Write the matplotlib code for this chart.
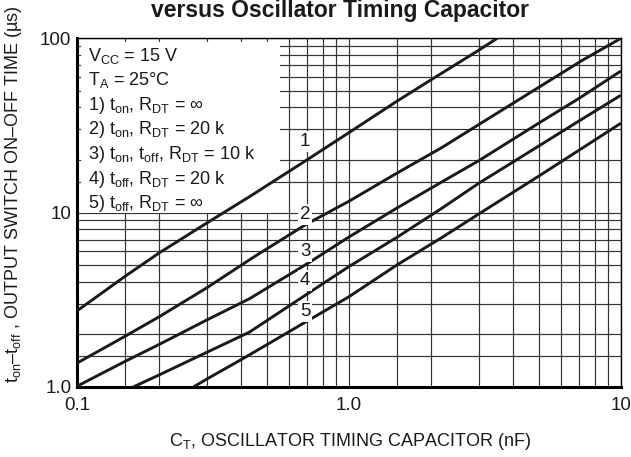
import matplotlib
matplotlib.use("Agg")
import matplotlib.pyplot as plt
from matplotlib.patches import Rectangle
from matplotlib.ticker import NullFormatter

plt.rcParams["font.family"] = ["Liberation Sans", "DejaVu Sans"]
plt.rcParams["mathtext.fontset"] = "custom"
plt.rcParams["mathtext.rm"] = "Liberation Sans"
plt.rcParams["mathtext.it"] = "Liberation Sans"

# ── data ──
c1_x = [0.1, 0.15, 0.2, 0.3, 0.43, 0.7, 1.0, 1.5, 2.0, 3.0, 3.52]
c1_y = [2.73, 4.3, 5.85, 8.7, 12.3, 20.0, 28.7, 43.4, 57.5, 85.1, 100]

c2_x = [0.1, 0.15, 0.2, 0.3, 0.45, 0.7, 1.0, 1.5, 2.2, 3.0, 5.0, 7.2, 10]
c2_y = [1.37, 1.95, 2.52, 3.7, 5.6, 8.6, 11.6, 16.8, 23.6, 31.9, 52.3, 74.4, 99.6]

c3_x = [0.1, 0.15, 0.2, 0.3, 0.43, 0.7, 1.0, 1.5, 2.2, 3.0, 5.0, 7.0, 10]
c3_y = [1.01, 1.40, 1.75, 2.42, 3.2, 5.07, 7.24, 10.6, 15.0, 19.8, 32.6, 45, 64.7]

c4_x = [0.161, 0.2, 0.3, 0.43, 0.7, 1.0, 1.5, 2.2, 3.0, 5.0, 7.0, 10]
c4_y = [1.0, 1.17, 1.58, 2.06, 3.4, 4.9, 7.2, 10.6, 14.7, 24.1, 33.4, 47]

c5_x = [0.268, 0.3, 0.4, 0.5, 0.7, 1.0, 1.5, 2.2, 3.0, 5.0, 7.0, 10]
c5_y = [1.0, 1.11, 1.43, 1.75, 2.38, 3.29, 5.0, 7.2, 9.8, 16.2, 22.7, 32.5]

curve_names = ["1", "2", "3", "4", "5"]
label_x = 0.69
label_y = [25.4, 9.7, 5.96, 4.1, 2.7]

legend_lines = [
    r"V$_\mathrm{CC}$ = 15 V",
    r"T$_\mathrm{A}$ = 25°C",
    r"1) t$_\mathrm{on}$, R$_\mathrm{DT}$ = ∞",
    r"2) t$_\mathrm{on}$, R$_\mathrm{DT}$ = 20 k",
    r"3) t$_\mathrm{on}$, t$_\mathrm{off}$, R$_\mathrm{DT}$ = 10 k",
    r"4) t$_\mathrm{off}$, R$_\mathrm{DT}$ = 20 k",
    r"5) t$_\mathrm{off}$, R$_\mathrm{DT}$ = ∞",
]

x_major = [0.1, 1.0, 10]
x_major_labels = ["0.1", "1.0", "10"]
y_major = [1.0, 10, 100]
y_major_labels = ["1.0", "10", "100"]
minor_steps = [1.5, 2, 3, 4, 5, 6, 7, 8, 9]

# ── figure ──
fig = plt.figure(figsize=(6.31, 4.57), dpi=100)
ax = fig.add_axes([0.122, 0.1532, 0.862, 0.7636])
ax.set_xscale("log")
ax.set_yscale("log")
ax.set_xlim(0.1, 10)
ax.set_ylim(1.0, 100)

ax.set_xticks(x_major)
ax.set_xticklabels(x_major_labels)
ax.set_yticks(y_major)
ax.set_yticklabels(y_major_labels)
ax.set_xticks([m * d for d in (0.1, 1.0) for m in minor_steps], minor=True)
ax.set_yticks([m * d for d in (1.0, 10) for m in minor_steps], minor=True)
ax.xaxis.set_minor_formatter(NullFormatter())
ax.yaxis.set_minor_formatter(NullFormatter())
ax.tick_params(which="both", length=0, labelsize=13.5, colors="#1a1a1a")
ax.tick_params(axis="x", pad=7)
ax.tick_params(axis="y", pad=4)
ax.grid(which="both", color="#333333", linewidth=0.85)
ax.set_axisbelow(True)

for side in ("left", "bottom"):
    ax.spines[side].set_linewidth(2.2)
for side in ("top", "right"):
    ax.spines[side].set_linewidth(1.0)

# white background behind the conditions text
ax.add_patch(Rectangle((0.0075, 0.59), 0.366, 0.399, transform=ax.transAxes,
                       facecolor="white", edgecolor="none", zorder=1))
ax.add_patch(Rectangle((0.0075, 0.50), 0.35, 0.10, transform=ax.transAxes,
                       facecolor="white", edgecolor="none", zorder=1))

for xs, ys in [(c1_x, c1_y), (c2_x, c2_y), (c3_x, c3_y), (c4_x, c4_y), (c5_x, c5_y)]:
    ax.plot(xs, ys, color="#1a1a1a", linewidth=2.1, solid_capstyle="butt", zorder=3)

for name, yv in zip(curve_names, label_y):
    ax.text(label_x, yv, name, ha="center", va="center", fontsize=13.5,
            color="#1a1a1a", zorder=4,
            bbox=dict(facecolor="white", edgecolor="none", pad=1.5))

for i, line in enumerate(legend_lines):
    base_px = 60.5 + i * 24.6
    ax.text(0.02, (387 - base_px) / 349, line, transform=ax.transAxes,
            ha="left", va="baseline", fontsize=13, color="#1a1a1a", zorder=4)

fig.text(0.539, 1 - 17 / 457, "versus Oscillator Timing Capacitor", ha="center",
         va="baseline", fontsize=16.5, fontweight="bold", color="#1a1a1a")
fig.text(0.022, 0.575, r"t$_\mathrm{on}$–t$_\mathrm{off}$ , OUTPUT SWITCH ON–OFF TIME (µs)",
         rotation=90, ha="center", va="center", fontsize=13, color="#1a1a1a")
fig.text(0.555, 0.035, r"C$_\mathrm{T}$, OSCILLATOR TIMING CAPACITOR (nF)",
         ha="center", va="center", fontsize=13, color="#1a1a1a")

fig.savefig("out.png", dpi=100)
